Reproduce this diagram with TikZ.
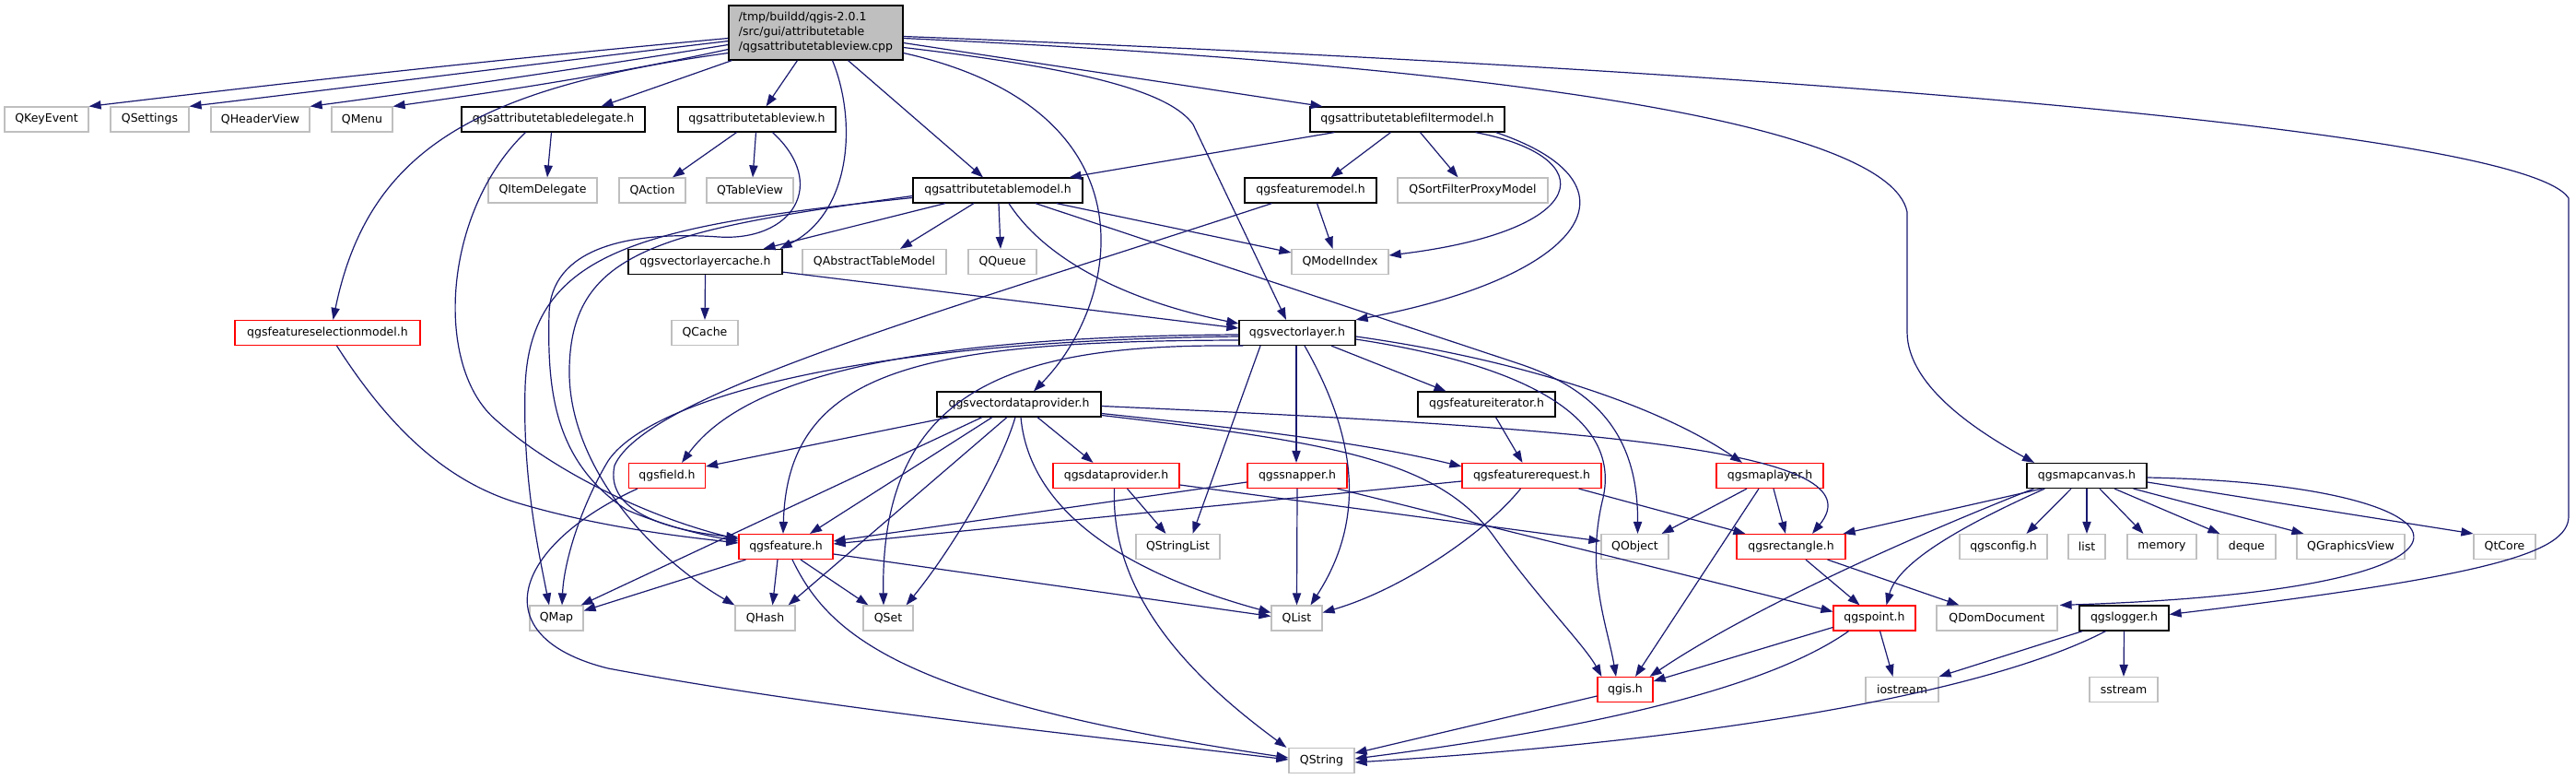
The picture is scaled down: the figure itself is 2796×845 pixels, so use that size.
\documentclass[tikz,border=0pt]{standalone}
\usepackage{fontspec}
\setmainfont{DejaVu Sans}
\usetikzlibrary{arrows.meta,calc}
\definecolor{edgec}{HTML}{191970}
\definecolor{grayb}{HTML}{BFBFBF}
\definecolor{redb}{HTML}{FF0000}
\begin{document}
\begin{tikzpicture}[x=0.5pt,y=-0.5pt,
  font=\fontsize{6.25}{8}\selectfont,
  nd/.style={rectangle, draw, inner sep=0pt, minimum height=13.5pt, fill=white, line width=0.6pt},
  bw/.style={minimum width=#1*0.5pt},
  gbox/.style={nd, draw=grayb},
  bbox/.style={nd, draw=black},
  rbox/.style={nd, draw=redb},
  mainbox/.style={nd, draw=black, fill=grayb},
  conn/.style={draw=edgec, line width=0.6pt, -{Triangle[length=6.5pt,width=4.6pt]}}]
\useasboundingbox (0,0) rectangle (2796,845);

% nodes
\node[mainbox, bw=189, minimum height=29.5pt, align=left] (main) at (885.5,35.5) {/tmp/buildd/qgis-2.0.1\\/src/gui/attributetable\\/qgsattributetableview.cpp};
\node[gbox, bw=91] (keyev) at (50.5,129.5) {QKeyEvent};
\node[gbox, bw=85] (settings) at (162.5,129.5) {QSettings};
\node[gbox, bw=107] (header) at (282.5,129.5) {QHeaderView};
\node[gbox, bw=66] (menu) at (393,129.5) {QMenu};
\node[bbox, bw=199] (deleg) at (600.5,129.5) {qgsattributetabledelegate.h};
\node[bbox, bw=171] (viewh) at (821.5,129.5) {qgsattributetableview.h};
\node[bbox, bw=211] (filt) at (1527.5,129.5) {qgsattributetablefiltermodel.h};
\node[gbox, bw=118] (itemdel) at (589,206.5) {QItemDelegate};
\node[gbox, bw=72] (action) at (708,206.5) {QAction};
\node[gbox, bw=94] (tableview) at (814,206.5) {QTableView};
\node[bbox, bw=184] (atm) at (1083,206.5) {qgsattributetablemodel.h};
\node[bbox, bw=143] (fmodel) at (1422.5,206.5) {qgsfeaturemodel.h};
\node[gbox, bw=163] (sfpm) at (1598.5,206.5) {QSortFilterProxyModel};
\node[bbox, bw=167] (vlc) at (765.5,284) {qgsvectorlayercache.h};
\node[gbox, bw=156] (abstm) at (949,284) {QAbstractTableModel};
\node[gbox, bw=74] (queue) at (1088,284) {QQueue};
\node[gbox, bw=105] (modelidx) at (1454.5,284) {QModelIndex};
\node[rbox, bw=201] (selm) at (355.5,361) {qgsfeatureselectionmodel.h};
\node[gbox, bw=72] (cache) at (765,361) {QCache};
\node[bbox, bw=126] (vl) at (1408,361) {qgsvectorlayer.h};
\node[bbox, bw=178] (vdp) at (1106,438.5) {qgsvectordataprovider.h};
\node[bbox, bw=149] (fiter) at (1613.5,438.5) {qgsfeatureiterator.h};
\node[rbox, bw=83] (field) at (724,516) {qgsfield.h};
\node[rbox, bw=137] (dprov) at (1211.5,516) {qgsdataprovider.h};
\node[rbox, bw=108] (snapper) at (1408,516) {qgssnapper.h};
\node[rbox, bw=151] (freq) at (1662.5,516) {qgsfeaturerequest.h};
\node[rbox, bw=116] (mlayer) at (1921,516) {qgsmaplayer.h};
\node[bbox, bw=130] (mcanvas) at (2265,516) {qgsmapcanvas.h};
\node[rbox, bw=102] (feat) at (853,593) {qgsfeature.h};
\node[gbox, bw=91] (strlist) at (1278.5,593) {QStringList};
\node[gbox, bw=73] (qobj) at (1774.5,593) {QObject};
\node[rbox, bw=118] (rect) at (1944,593) {qgsrectangle.h};
\node[gbox, bw=95] (config) at (2174.5,593) {qgsconfig.h};
\node[gbox, bw=40] (list) at (2265,593) {list};
\node[gbox, bw=75] (memory) at (2346.5,593) {memory};
\node[gbox, bw=63] (deque) at (2438.5,593) {deque};
\node[gbox, bw=117] (gview) at (2551.5,593) {QGraphicsView};
\node[gbox, bw=67] (qtcore) at (2718.5,593) {QtCore};
\node[gbox, bw=58] (qmap) at (604,670.5) {QMap};
\node[gbox, bw=65] (qhash) at (830.5,670.5) {QHash};
\node[gbox, bw=54] (qset) at (964,670.5) {QSet};
\node[gbox, bw=55] (qlist) at (1407.5,670.5) {QList};
\node[rbox, bw=89] (point) at (2034.5,670.5) {qgspoint.h};
\node[gbox, bw=131] (domdoc) at (2167.5,670.5) {QDomDocument};
\node[bbox, bw=97] (logger) at (2305.5,670.5) {qgslogger.h};
\node[rbox, bw=60] (qgis) at (1764,748) {qgis.h};
\node[gbox, bw=79] (iostream) at (2064.5,748) {iostream};
\node[gbox, bw=74] (sstream) at (2305,748) {sstream};
\node[gbox, bw=71] (qstring) at (1434.5,825) {QString};

% main edges
\draw[conn] ($(main.west)+(0,6)$) .. controls (500,68) and (260,96) .. (keyev.north east);
\draw[conn] ($(main.west)+(0,9)$) .. controls (560,72) and (360,97) .. (settings.north east);
\draw[conn] ($(main.west)+(0,13)$) .. controls (620,76) and (460,99) .. (header.north east);
\draw[conn] ($(main.west)+(0,18)$) .. controls (660,82) and (530,101) .. (menu.north east);
\draw[conn] ($(main.west)+(0,22)$) .. controls (520,95) and (400,160) .. ($(selm.north)+(6,0)$);
\draw[conn] ($(main.south west)+(4,0)$) -- ($(deleg.north)+(52,0)$);
\draw[conn] ($(main.south)+(-20,0)$) -- ($(viewh.north)+(10,0)$);
\draw[conn] ($(main.south)+(18,0)$) .. controls (930,130) and (925,230) .. ($(vlc.north east)+(-3,0)$);
\draw[conn] ($(main.south)+(35,0)$) -- ($(atm.north)+(-16,0)$);
\draw[conn] ($(main.east)+(0,22)$) .. controls (1260,120) and (1215,330) .. ($(vdp.north)+(16,0)$);
\draw[conn] ($(main.east)+(0,16)$) .. controls (1180,75) and (1270,100) .. (1295,135) -- ($(vl.north)+(-12,0)$);
\draw[conn] ($(main.east)+(0,11)$) -- ($(filt.north west)+(14,0)$);
\draw[conn] ($(main.east)+(0,6)$) .. controls (1600,70) and (2050,130) .. (2070,230) -- (2070,360) .. controls (2070,420) and (2150,470) .. ($(mcanvas.north)+(-57,0)$);
\draw[conn] ($(main.east)+(0,4)$) .. controls (1900,75) and (2740,140) .. (2788,215) -- (2788,560) .. controls (2788,600) and (2700,625) .. ($(logger.east)+(0,-4)$);

% delegate
\draw[conn] ($(deleg.south)+(-2,0)$) -- ($(itemdel.north)+(5,0)$);
\draw[conn] ($(deleg.south west)+(70,0)$) .. controls (480,230) and (470,400) .. (540,457) .. controls (600,510) and (700,560) .. ($(feat.west)+(0,-8)$);

% view.h
\draw[conn] ($(viewh.south)+(-22,0)$) -- ($(action.north)+(22,0)$);
\draw[conn] ($(viewh.south)+(-1,0)$) -- ($(tableview.north)+(3,0)$);
\draw[conn] ($(viewh.south)+(17,0)$) .. controls (900,200) and (860,262) .. (780,257) .. controls (680,250) and (598,270) .. (596,340) .. controls (594,420) and (600,500) .. (680,553) .. controls (720,570) and (760,580) .. ($(feat.west)+(0,-6)$);

% selection model
\draw[conn] ($(selm.south)+(10,0)$) .. controls (420,460) and (480,520) .. (560,545) .. controls (650,572) and (740,582) .. ($(feat.west)+(0,-4)$);

% attribute table model
\draw[conn] ($(atm.south)+(-26,0)$) -- ($(abstm.north)+(28,0)$);
\draw[conn] ($(atm.south)+(1,0)$) -- ($(queue.north)+(-2,0)$);
\draw[conn] ($(atm.south)+(-57,0)$) -- ($(vlc.north)+(63,0)$);
\draw[conn] ($(atm.south)+(12,0)$) .. controls (1140,290) and (1240,330) .. ($(vl.west)+(0,-10)$);
\draw[conn] ($(atm.south east)+(-29,0)$) -- ($(modelidx.west)+(0,-10)$);
\draw[conn] ($(atm.south)+(41,0)$) -- (1650,395) .. controls (1740,425) and (1778,480) .. ($(qobj.north)+(3,0)$);
\draw[conn] ($(atm.west)+(0,8)$) .. controls (700,245) and (575,270) .. (570,420) .. controls (567,520) and (585,600) .. ($(qmap.north)+(-8,0)$);
\draw[conn] ($(atm.west)+(0,6)$) .. controls (720,250) and (620,270) .. (618,400) .. controls (616,500) and (700,600) .. (qhash.north west);

% filter model
\draw[conn] ($(filt.south west)+(27,0)$) -- ($(atm.north east)+(-15,0)$);
\draw[conn] ($(filt.south)+(-18,0)$) -- ($(fmodel.north)+(22,0)$);
\draw[conn] ($(filt.south)+(14,0)$) -- ($(sfpm.north)+(-16,0)$);
\draw[conn] ($(filt.south)+(74,0)$) .. controls (1740,170) and (1730,250) .. ($(modelidx.east)+(0,-7)$);
\draw[conn] ($(filt.south east)+(-10,0)$) .. controls (1790,200) and (1720,300) .. (vl.north east);

% feature model
\draw[conn] ($(fmodel.south)+(7,0)$) -- ($(modelidx.north)+(-8,0)$);
\draw[conn] ($(fmodel.south)+(-42,0)$) .. controls (1000,345) and (700,430) .. (667,505) .. controls (655,560) and (740,577) .. ($(feat.west)+(0,-10)$);

% vector layer cache
\draw[conn] (vlc.south) -- (cache.north);
\draw[conn] ($(vlc.south east)+(0,-3)$) -- ($(vl.west)+(0,-5)$);

% vector layer
\draw[conn] ($(vl.south)+(-1,0)$) -- ($(snapper.north)+(-1,0)$);
\draw[conn] ($(vl.south)+(37,0)$) -- ($(fiter.north)+(-44,0)$);
\draw[conn] ($(vl.south)+(8,0)$) .. controls (1470,470) and (1485,560) .. ($(qlist.north)+(15,0)$);
\draw[conn] ($(vl.south)+(-40,0)$) -- ($(strlist.north)+(16,0)$);
\draw[conn] ($(vl.east)+(0,4)$) .. controls (1650,390) and (1800,440) .. ($(mlayer.north)+(-30,0)$);
\draw[conn] ($(vl.east)+(0,7)$) .. controls (1650,395) and (1760,450) .. (1740,540) .. controls (1720,620) and (1745,680) .. ($(qgis.north)+(-10,0)$);
\draw[conn] ($(vl.south west)+(5,0)$) .. controls (1100,372) and (955,420) .. ($(qset.north)+(-5,0)$);
\draw[conn] ($(vl.west)+(0,8)$) .. controls (1000,370) and (855,400) .. ($(feat.north)+(-3,0)$);
\draw[conn] ($(vl.west)+(0,2)$) .. controls (950,365) and (800,420) .. ($(field.north)+(16,0)$);
\draw[conn] ($(vl.west)+(0,4)$) .. controls (900,370) and (700,440) .. (660,500) .. controls (630,550) and (612,610) .. ($(qmap.north)+(6,0)$);

% vector data provider
\draw[conn] ($(vdp.south)+(-76,0)$) -- ($(field.east)+(0,-10)$);
\draw[conn] ($(vdp.south)+(-40,0)$) -- ($(qmap.north east)+(-3,0)$);
\draw[conn] ($(vdp.south)+(-29,0)$) -- ($(feat.north)+(26,0)$);
\draw[conn] ($(vdp.south)+(-13,0)$) -- ($(qhash.north east)+(-8,0)$);
\draw[conn] ($(vdp.south)+(-4,0)$) .. controls (1085,510) and (1030,600) .. ($(qset.north east)+(-8,0)$);
\draw[conn] ($(vdp.south)+(2,0)$) .. controls (1115,530) and (1180,610) .. ($(qlist.west)+(0,-6)$);
\draw[conn] ($(vdp.south)+(20,0)$) -- ($(dprov.north)+(-25,0)$);
\draw[conn] ($(vdp.east)+(0,10)$) .. controls (1350,465) and (1480,480) .. ($(freq.west)+(0,-10)$);
\draw[conn] ($(vdp.east)+(0,2)$) .. controls (1750,465) and (2040,490) .. ($(rect.north)+(23,0)$);
\draw[conn] ($(vdp.east)+(0,12)$) .. controls (1450,480) and (1560,500) .. (1620,580) .. controls (1670,650) and (1720,700) .. ($(qgis.north west)+(5,0)$);

% data provider
\draw[conn] ($(dprov.south)+(12,0)$) -- ($(strlist.north)+(-13,0)$);
\draw[conn] ($(dprov.south)+(-2,0)$) .. controls (1205,650) and (1300,740) .. ($(qstring.north west)+(-2,0)$);
\draw[conn] ($(dprov.east)+(0,10)$) -- ($(qobj.west)+(0,-6)$);

% snapper
\draw[conn] ($(snapper.west)+(0,7)$) -- ($(feat.east)+(0,-6)$);
\draw[conn] (snapper.south) -- (qlist.north);
\draw[conn] ($(snapper.south east)+(-11,0)$) -- ($(point.west)+(0,-7)$);

% feature request
\draw[conn] ($(freq.west)+(0,6)$) -- ($(feat.east)+(0,-3)$);
\draw[conn] ($(freq.south)+(-12,0)$) .. controls (1610,580) and (1520,640) .. ($(qlist.east)+(0,-6)$);
\draw[conn] ($(freq.south east)+(-25,0)$) -- ($(rect.north west)+(10,0)$);

% feature iterator
\draw[conn] ($(fiter.south)+(10,0)$) -- ($(freq.north)+(-10,0)$);

% map layer
\draw[conn] ($(mlayer.south)+(-25,0)$) -- ($(qobj.north east)+(-8,0)$);
\draw[conn] ($(mlayer.south)+(4,0)$) -- ($(rect.north)+(-6,0)$);
\draw[conn] ($(mlayer.south)+(-12,0)$) -- ($(qgis.north)+(11,0)$);

% rectangle
\draw[conn] ($(rect.south)+(16,0)$) -- ($(point.north)+(-16,0)$);
\draw[conn] ($(rect.south east)+(-20,0)$) -- ($(domdoc.north west)+(25,0)$);

% point
\draw[conn] ($(point.west)+(0,10)$) -- ($(qgis.east)+(0,-9)$);
\draw[conn] ($(point.south)+(-28,0)$) .. controls (1900,760) and (1650,800) .. ($(qstring.east)+(0,-2)$);
\draw[conn] ($(point.south)+(6,0)$) -- ($(iostream.north)+(-10,0)$);

% qgis
\draw[conn] ($(qgis.west)+(0,7)$) -- ($(qstring.east)+(0,-8)$);

% logger
\draw[conn] ($(logger.south west)+(4,0)$) -- (iostream.north east);
\draw[conn] ($(logger.south)+(-20,0)$) .. controls (2170,745) and (1900,800) .. ($(qstring.east)+(0,2)$);
\draw[conn] (logger.south) -- (sstream.north);

% map canvas
\draw[conn] ($(mcanvas.south)+(-17,0)$) -- ($(config.north)+(25,0)$);
\draw[conn] (mcanvas.south) -- (list.north);
\draw[conn] ($(mcanvas.south)+(14,0)$) -- ($(memory.north)+(-20,0)$);
\draw[conn] ($(mcanvas.south)+(30,0)$) -- ($(deque.north west)+(3,0)$);
\draw[conn] ($(mcanvas.south east)+(-15,0)$) -- ($(gview.north west)+(8,0)$);
\draw[conn] ($(mcanvas.east)+(0,7)$) -- (qtcore.north west);
\draw[conn] ($(mcanvas.east)+(0,2)$) .. controls (2700,525) and (2760,640) .. ($(domdoc.north east)+(2,0)$);
\draw[conn] ($(mcanvas.south west)+(17,0)$) -- ($(rect.north east)+(-3,0)$);
\draw[conn] ($(mcanvas.south west)+(8,0)$) .. controls (2080,580) and (1900,660) .. ($(qgis.north east)+(-4,0)$);
\draw[conn] ($(mcanvas.south west)+(20,0)$) .. controls (2130,570) and (2060,610) .. ($(point.north)+(13,0)$);

% qgsfeature
\draw[conn] ($(feat.south west)+(8,0)$) -- ($(qmap.east)+(0,-8)$);
\draw[conn] ($(feat.south)+(-9,0)$) -- ($(qhash.north)+(8,0)$);
\draw[conn] ($(feat.south)+(16,0)$) -- ($(qset.north west)+(6,0)$);
\draw[conn] ($(feat.south)+(7,0)$) .. controls (900,690) and (980,760) .. ($(qstring.west)+(0,-3)$);
\draw[conn] ($(feat.east)+(0,8)$) -- ($(qlist.west)+(0,-2)$);

% qgsfield
\draw[conn] ($(field.south west)+(10,0)$) .. controls (560,590) and (520,690) .. (660,725) .. controls (900,770) and (1200,800) .. ($(qstring.west)+(0,-1)$);
\end{tikzpicture}
\end{document}
